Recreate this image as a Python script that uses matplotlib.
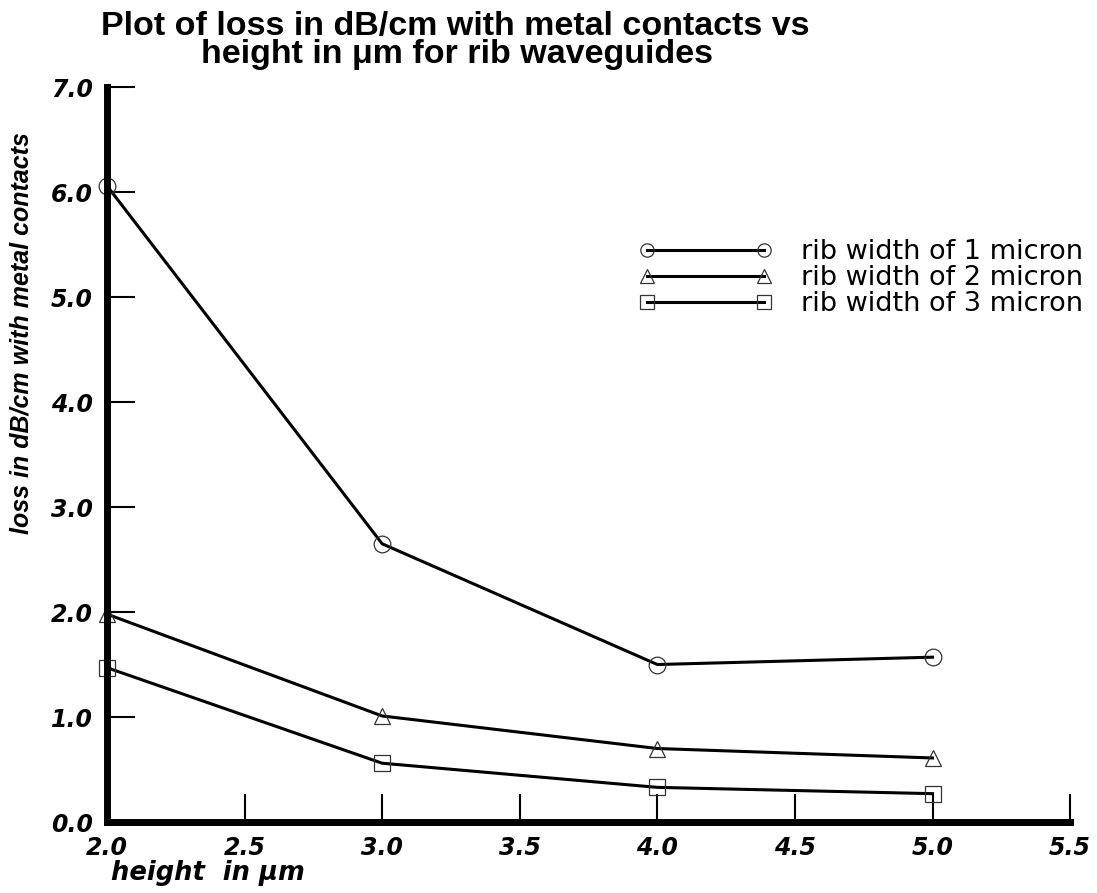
import matplotlib
matplotlib.use("Agg")
import matplotlib.pyplot as plt

plt.rcParams['font.family'] = ['Liberation Sans', 'DejaVu Sans']

heights = [2.0, 3.0, 4.0, 5.0]
loss_w1 = [6.06, 2.65, 1.50, 1.57]
loss_w2 = [1.98, 1.01, 0.70, 0.61]
loss_w3 = [1.47, 0.56, 0.33, 0.27]
series_labels = ["rib width of 1 micron", "rib width of 2 micron", "rib width of 3 micron"]
series_markers = ["o", "^", "s"]
x_ticks = [2.0, 2.5, 3.0, 3.5, 4.0, 4.5, 5.0, 5.5]
y_ticks = [0.0, 1.0, 2.0, 3.0, 4.0, 5.0, 6.0, 7.0]

fig = plt.figure(figsize=(10.97, 8.93), dpi=100)
ax = fig.add_axes([0.0975, 0.0795, 0.878, 0.823])

for vals, mk, lab in zip([loss_w1, loss_w2, loss_w3], series_markers, series_labels):
    ax.plot(heights, vals, color='black', lw=2.2, marker=mk, ms=12,
            mfc='none', mec='#333333', mew=0.9, label=lab, clip_on=False)

tick_font = dict(family='DejaVu Sans', size=17, weight='bold', style='italic')
ax.set_xlim(2.0, 5.5)
ax.set_ylim(0.0, 7.0)
ax.set_xticks(x_ticks)
ax.set_yticks(y_ticks)
ax.set_xticklabels([f"{v:.1f}" for v in x_ticks], fontdict=tick_font)
ax.set_yticklabels([f"{v:.1f}" for v in y_ticks], fontdict=tick_font)
ax.tick_params(axis='x', direction='in', length=20, width=1.5, pad=10)
ax.tick_params(axis='y', direction='in', length=20, width=1.5, pad=10)

for s in ['top', 'right']:
    ax.spines[s].set_visible(False)
ax.spines['left'].set_linewidth(5)
ax.spines['bottom'].set_linewidth(5)

fig.text(0.415, 0.9608, "Plot of loss in dB/cm with metal contacts vs",
         ha='center', va='baseline', fontsize=24.5, fontweight='bold')
fig.text(0.4166, 0.9295, "height in \u03bcm for rib waveguides",
         ha='center', va='baseline', fontsize=24.5, fontweight='bold')
fig.text(0.020, 0.627, "loss in dB/cm with metal contacts", rotation=90, ha='center', va='center',
         fontsize=18, fontweight='bold', style='italic')
fig.text(0.101, 0.0146, "height  in \u03bcm", ha='left', va='baseline',
         family='DejaVu Sans', fontsize=18.5, fontweight='bold', style='italic')

leg = ax.legend(loc='upper left', bbox_to_anchor=(0.527, 0.826), frameon=False,
                prop=dict(family='DejaVu Sans', size=19.5),
                numpoints=2, handlelength=4.9, handletextpad=1.1, labelspacing=0.0,
                markerscale=0.8)

fig.savefig("out.png", dpi=100)
